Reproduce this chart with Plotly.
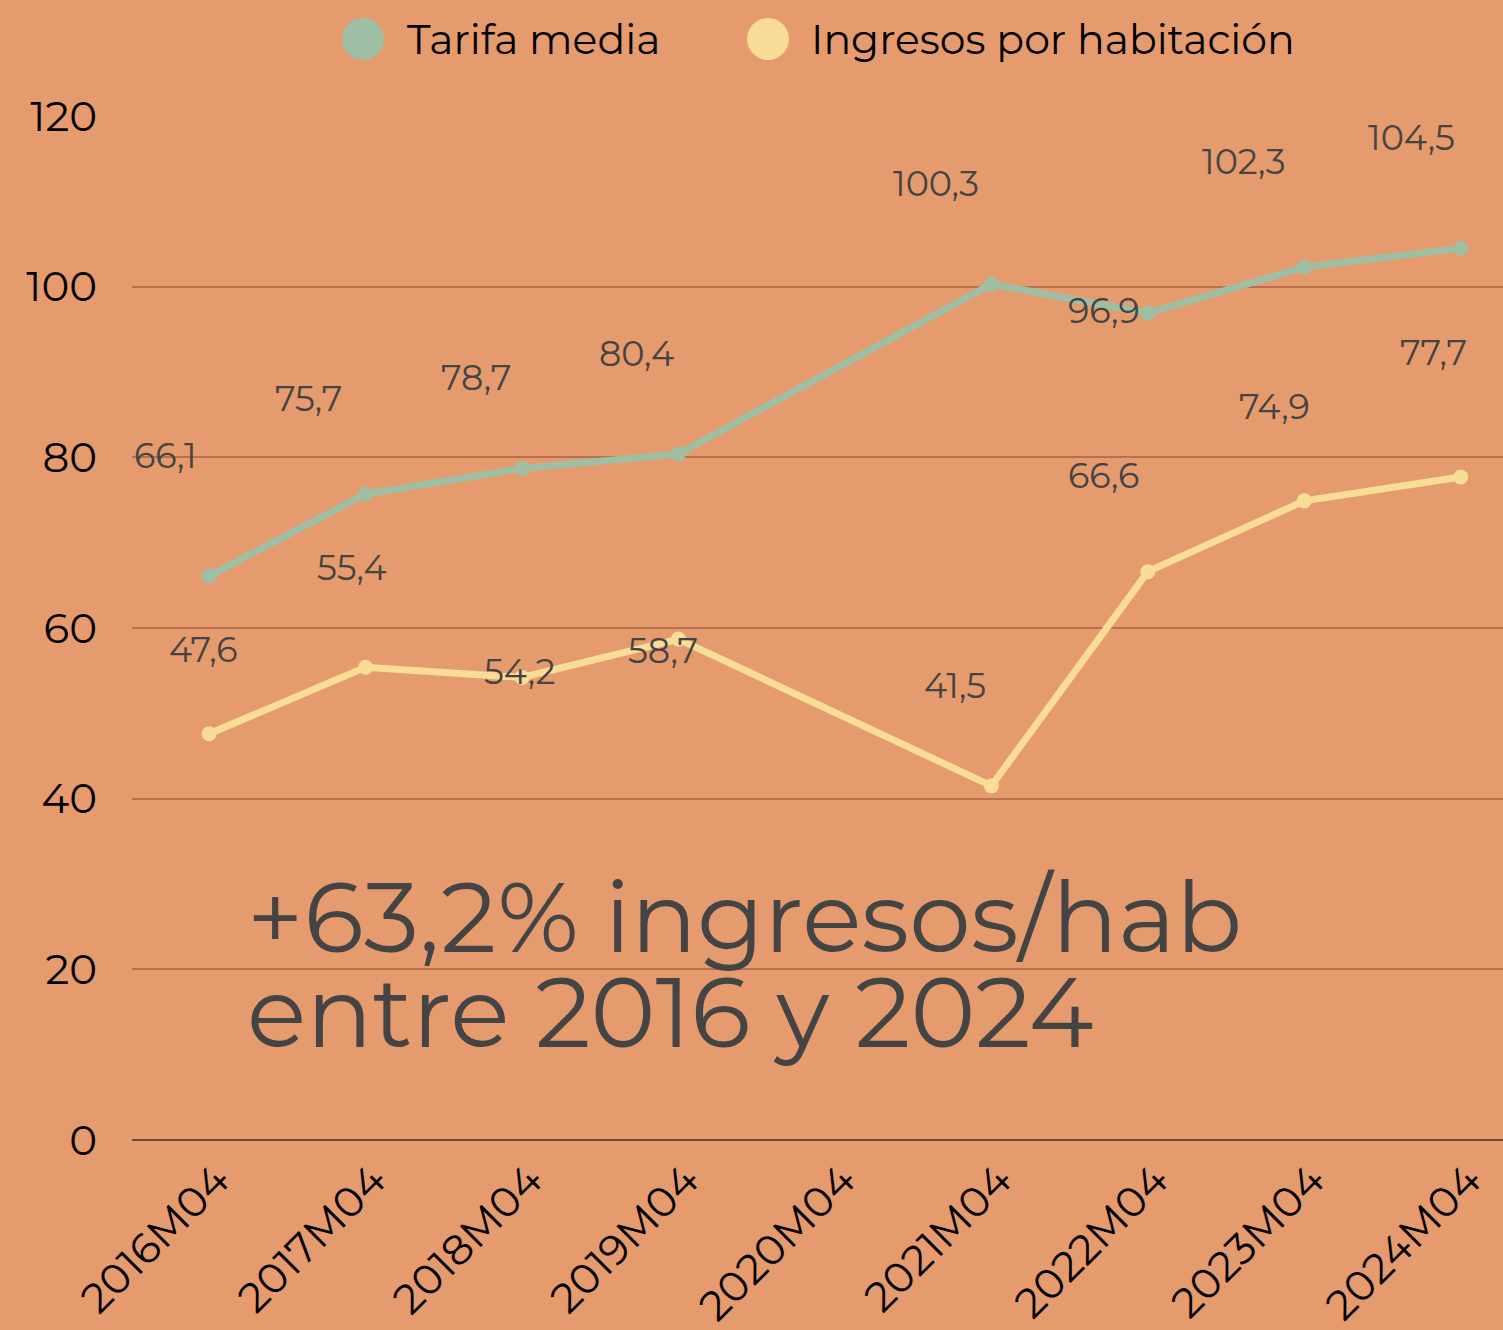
import plotly.graph_objects as go

categories = ["2016M04", "2017M04", "2018M04", "2019M04", "2020M04",
              "2021M04", "2022M04", "2023M04", "2024M04"]
tarifa_media = [66.1, 75.7, 78.7, 80.4, None, 100.3, 96.9, 102.3, 104.5]
ingresos_hab = [47.6, 55.4, 54.2, 58.7, None, 41.5, 66.6, 74.9, 77.7]
y_ticks = [0, 20, 40, 60, 80, 100, 120]

# label offsets (pixels) for the data labels, as placed in the reference
tarifa_offsets = [(-44, -120), (-57, -96), (-46, -91), (-42, -100), None,
                  (-55, -101), (-44, -3), (-60, -106), (-49, -111)]
ingresos_offsets = [(-6, -84), (-14, -100), (-3, -6), (-15, 11), None,
                    (-36, -100), (-44, -96), (-30, -94), (-27, -124)]

W, H = 1503, 1330
L, R, T, B = 132, 0, 116, 190
PW, PH = W - L - R, H - T - B

def px(x):
    return (x - L) / PW

def py(y):
    return (H - B - y) / PH

BG = "#E69B6E"
GREEN = "#9FBFA5"
YELLOW = "#F8DD98"
LABEL = "#444444"
FONT = "Montserrat, Inter, 'Open Sans', sans-serif"

fig = go.Figure()
fig.add_trace(go.Scatter(x=categories, y=tarifa_media, name="Tarifa media",
                         mode="lines+markers", connectgaps=True,
                         line=dict(color=GREEN, width=7),
                         marker=dict(color=GREEN, size=15),
                         showlegend=False))
fig.add_trace(go.Scatter(x=categories, y=ingresos_hab, name="Ingresos por habitación",
                         mode="lines+markers", connectgaps=True,
                         line=dict(color=YELLOW, width=7),
                         marker=dict(color=YELLOW, size=15),
                         showlegend=False))

def fmt(v):
    return f"{v:.1f}".replace(".", ",")

for vals, offs in ((tarifa_media, tarifa_offsets), (ingresos_hab, ingresos_offsets)):
    for c, v, o in zip(categories, vals, offs):
        if v is None:
            continue
        fig.add_annotation(x=c, y=v, xref="x", yref="y", text=fmt(v),
                           showarrow=True, arrowcolor="rgba(0,0,0,0)",
                           ax=o[0], ay=o[1], axref="pixel", ayref="pixel",
                           font=dict(family=FONT, size=35, color=LABEL))

# big annotation (two lines, tight line spacing as in the reference)
for line_text, top in (("+63,2% ingresos/hab", 856), ("entre 2016 y 2024", 951)):
    fig.add_annotation(x=px(246), y=py(top), xref="paper", yref="paper",
                       xanchor="left", yanchor="top", align="left", showarrow=False,
                       text=line_text, borderpad=0,
                       font=dict(family=FONT, size=98, color=LABEL))

fig.update_layout(
    width=W, height=H,
    paper_bgcolor=BG, plot_bgcolor=BG,
    margin=dict(l=L, r=R, t=T, b=B),
    showlegend=False,
    font=dict(family=FONT, color="#000000"),
    xaxis=dict(type="category", range=[-0.493, 8.27], showgrid=False,
               tickangle=-45, tickfont=dict(size=42, color="#000000"),
               ticklabelshift=8, ticklabelstandoff=6,
               ticks="", showline=False, zeroline=False),
    yaxis=dict(range=[0, 120], tickvals=y_ticks, showgrid=True,
               gridcolor="#B8714C", gridwidth=1.5, zeroline=True,
               zerolinecolor="#6E4A36", zerolinewidth=2,
               tickfont=dict(size=42, color="#000000"), ticks="",
               ticklabelstandoff=34, showline=False),
)

# custom legend (circle markers)
legend_items = [("Tarifa media", GREEN, 363, 405), ("Ingresos por habitación", YELLOW, 768, 809)]
for name, col, cx, tx in legend_items:
    fig.add_shape(type="circle", xref="paper", yref="paper",
                  x0=px(cx - 21), x1=px(cx + 21),
                  y0=py(39 + 21), y1=py(39 - 21),
                  fillcolor=col, line=dict(width=0))
    fig.add_annotation(x=px(tx), y=py(39), xref="paper", yref="paper",
                       xanchor="left", yanchor="middle", showarrow=False,
                       text=name, font=dict(family=FONT, size=41, color="#000000"))

fig.write_html("out.html", config={"displayModeBar": False})

# remove the default page margin so the figure fills the window
with open("out.html", encoding="utf-8") as f:
    html = f.read()
html = html.replace("<head>", "<head><style>html,body{margin:0;padding:0;overflow:hidden;}</style>", 1)
with open("out.html", "w", encoding="utf-8") as f:
    f.write(html)
